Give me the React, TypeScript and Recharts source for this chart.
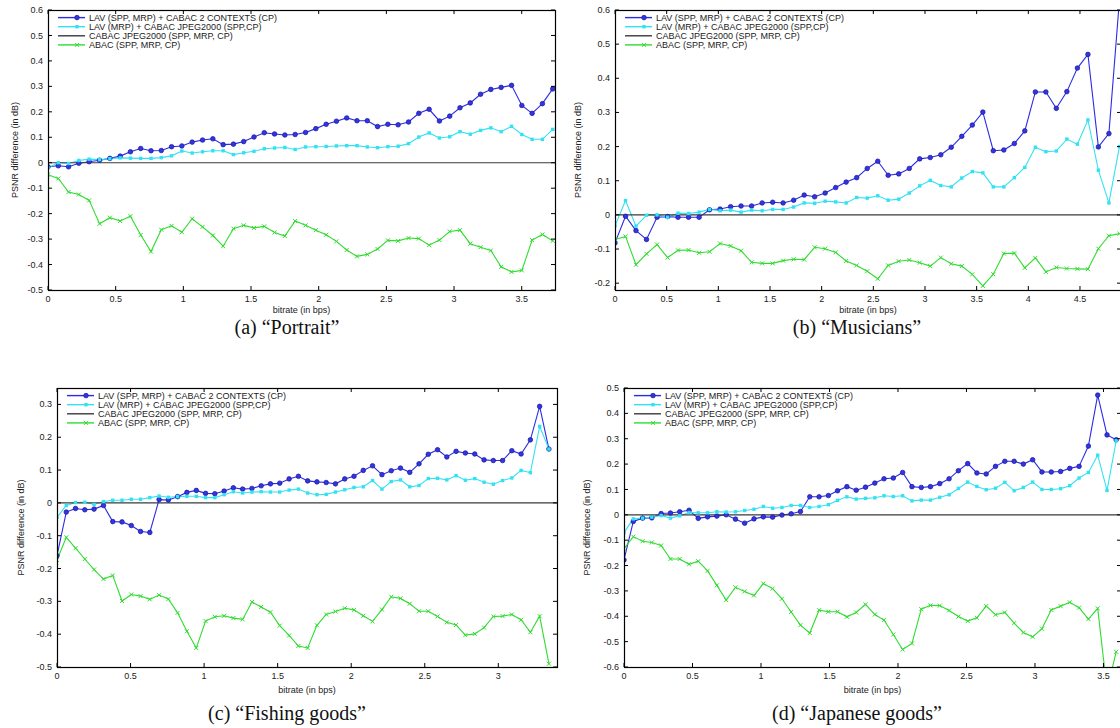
// PSNR difference vs bitrate — four test images, 2x2 grid (gnuplot look).

import React from 'react';
import { LineChart, Line, XAxis, YAxis, ReferenceLine } from 'recharts';

const SANS = '"Liberation Sans", Arial, Helvetica, sans-serif';
const SERIF = '"Liberation Serif", "Times New Roman", Times, serif';

const BLUE = '#2b2be6';
const CYAN = '#33e2f2';
const GREEN = '#30dc30';
const ZERO = '#3a3a3a';

const seriesNames = [
  'LAV (SPP, MRP) + CABAC 2 CONTEXTS (CP)',
  'LAV (MRP) + CABAC JPEG2000 (SPP,CP)',
  'CABAC JPEG2000 (SPP, MRP, CP)',
  'ABAC (SPP, MRP, CP)',
];

// ---------- (a) Portrait ----------
const portraitRate = [
  0, 0.076, 0.152, 0.228, 0.304, 0.381, 0.457, 0.533, 0.609, 0.685,
  0.761, 0.837, 0.913, 0.989, 1.065, 1.142, 1.218, 1.294, 1.37, 1.446,
  1.522, 1.598, 1.674, 1.75, 1.826, 1.903, 1.979, 2.055, 2.131, 2.207,
  2.283, 2.359, 2.435, 2.511, 2.587, 2.664, 2.74, 2.816, 2.892, 2.968,
  3.044, 3.12, 3.196, 3.272, 3.348, 3.425, 3.501, 3.577, 3.653, 3.729,
];
const portraitLavCtx = [
  -0.016, -0.012, -0.016, -0.002, 0.004, 0.01, 0.017, 0.026, 0.043, 0.056,
  0.047, 0.048, 0.063, 0.066, 0.081, 0.089, 0.094, 0.071, 0.073, 0.083,
  0.101, 0.118, 0.113, 0.109, 0.111, 0.119, 0.134, 0.151, 0.163, 0.176,
  0.165, 0.165, 0.142, 0.151, 0.149, 0.16, 0.194, 0.21, 0.164, 0.183,
  0.216, 0.235, 0.269, 0.288, 0.296, 0.304, 0.225, 0.194, 0.232, 0.29,
];
const portraitLavJpeg = [
  -0.02, 0.0, -0.003, 0.009, 0.014, 0.012, 0.016, 0.019, 0.018, 0.017,
  0.017, 0.02, 0.027, 0.046, 0.038, 0.043, 0.047, 0.047, 0.032, 0.039,
  0.045, 0.055, 0.058, 0.06, 0.052, 0.062, 0.063, 0.064, 0.066, 0.067,
  0.067, 0.062, 0.059, 0.063, 0.065, 0.075, 0.101, 0.117, 0.097, 0.102,
  0.122, 0.112, 0.127, 0.137, 0.122, 0.143, 0.111, 0.092, 0.092, 0.131,
];
const portraitAbac = [
  -0.047, -0.062, -0.115, -0.125, -0.148, -0.24, -0.216, -0.229, -0.21, -0.284,
  -0.349, -0.263, -0.248, -0.273, -0.22, -0.252, -0.286, -0.328, -0.259, -0.246,
  -0.256, -0.25, -0.274, -0.288, -0.229, -0.246, -0.265, -0.283, -0.309, -0.343,
  -0.368, -0.36, -0.339, -0.305, -0.307, -0.296, -0.298, -0.324, -0.304, -0.27,
  -0.265, -0.318, -0.332, -0.345, -0.409, -0.429, -0.423, -0.304, -0.282, -0.307,
];
const portraitXTicks = [0, 0.5, 1, 1.5, 2, 2.5, 3, 3.5];
const portraitYTicks = [-0.5, -0.4, -0.3, -0.2, -0.1, 0, 0.1, 0.2, 0.3, 0.4, 0.5, 0.6];

// ---------- (b) Musicians ----------
const musiciansRate = [
  0, 0.102, 0.203, 0.305, 0.407, 0.509, 0.61, 0.712, 0.814, 0.915,
  1.017, 1.119, 1.22, 1.322, 1.424, 1.526, 1.627, 1.729, 1.831, 1.932,
  2.034, 2.136, 2.237, 2.339, 2.441, 2.543, 2.644, 2.746, 2.848, 2.949,
  3.051, 3.153, 3.254, 3.356, 3.458, 3.56, 3.661, 3.763, 3.865, 3.966,
  4.068, 4.17, 4.271, 4.373, 4.475, 4.577, 4.678, 4.78, 4.882,
];
const musiciansLavCtx = [
  -0.082, -0.004, -0.046, -0.072, -0.007, -0.005, -0.007, -0.007, -0.007, 0.015,
  0.017, 0.024, 0.026, 0.026, 0.035, 0.037, 0.035, 0.043, 0.058, 0.053,
  0.064, 0.08, 0.096, 0.109, 0.136, 0.157, 0.116, 0.12, 0.136, 0.164,
  0.168, 0.176, 0.198, 0.23, 0.263, 0.301, 0.188, 0.19, 0.209, 0.246,
  0.36, 0.36, 0.312, 0.361, 0.43, 0.47, 0.199, 0.238, 0.63,
];
const musiciansLavJpeg = [
  -0.032, 0.042, -0.033, -0.001, 0.0, -0.007, 0.005, 0.004, 0.008, 0.016,
  0.012, 0.014, 0.008, 0.014, 0.012, 0.016, 0.016, 0.023, 0.035, 0.034,
  0.04, 0.038, 0.035, 0.051, 0.049, 0.056, 0.043, 0.046, 0.064, 0.085,
  0.101, 0.086, 0.082, 0.108, 0.127, 0.123, 0.082, 0.082, 0.109, 0.139,
  0.198, 0.185, 0.187, 0.222, 0.207, 0.278, 0.131, 0.035, 0.2,
];
const musiciansAbac = [
  -0.072, -0.063, -0.146, -0.114, -0.087, -0.125, -0.104, -0.103, -0.111, -0.108,
  -0.084, -0.091, -0.105, -0.139, -0.142, -0.142, -0.134, -0.13, -0.131, -0.095,
  -0.099, -0.11, -0.135, -0.148, -0.165, -0.187, -0.148, -0.136, -0.132, -0.14,
  -0.15, -0.125, -0.143, -0.15, -0.174, -0.208, -0.174, -0.113, -0.112, -0.155,
  -0.126, -0.167, -0.154, -0.157, -0.158, -0.159, -0.099, -0.061, -0.055,
];
const musiciansXTicks = [0, 0.5, 1, 1.5, 2, 2.5, 3, 3.5, 4, 4.5];
const musiciansYTicks = [-0.2, -0.1, 0, 0.1, 0.2, 0.3, 0.4, 0.5, 0.6];

// ---------- (c) Fishing goods ----------
const fishingRate = [
  0, 0.063, 0.126, 0.189, 0.252, 0.316, 0.379, 0.442, 0.505, 0.568,
  0.631, 0.694, 0.757, 0.82, 0.883, 0.947, 1.01, 1.073, 1.136, 1.199,
  1.262, 1.325, 1.388, 1.451, 1.514, 1.578, 1.641, 1.704, 1.767, 1.83,
  1.893, 1.956, 2.019, 2.082, 2.145, 2.209, 2.272, 2.335, 2.398, 2.461,
  2.524, 2.587, 2.65, 2.713, 2.776, 2.84, 2.903, 2.966, 3.029, 3.092,
  3.155, 3.218, 3.281, 3.344,
];
const fishingLavCtx = [
  -0.161, -0.028, -0.017, -0.021, -0.019, -0.008, -0.057, -0.058, -0.069, -0.087,
  -0.09, 0.01, 0.009, 0.019, 0.032, 0.038, 0.029, 0.028, 0.036, 0.046,
  0.042, 0.044, 0.052, 0.058, 0.06, 0.073, 0.081, 0.067, 0.064, 0.062,
  0.058, 0.073, 0.081, 0.099, 0.113, 0.086, 0.098, 0.106, 0.093, 0.119,
  0.148, 0.162, 0.14, 0.157, 0.152, 0.149, 0.131, 0.129, 0.129, 0.159,
  0.149, 0.192, 0.294, 0.164,
];
const fishingLavJpeg = [
  -0.044, -0.008, 0.001, 0.002, -0.005, 0.004, 0.008, 0.008, 0.011, 0.011,
  0.016, 0.021, 0.017, 0.019, 0.02, 0.02, 0.016, 0.016, 0.025, 0.034,
  0.03, 0.033, 0.034, 0.033, 0.033, 0.039, 0.042, 0.03, 0.025, 0.026,
  0.033, 0.04, 0.047, 0.049, 0.068, 0.042, 0.065, 0.07, 0.049, 0.053,
  0.074, 0.075, 0.07, 0.083, 0.069, 0.074, 0.063, 0.057, 0.068, 0.076,
  0.099, 0.092, 0.233, 0.164,
];
const fishingAbac = [
  -0.174, -0.105, -0.138, -0.171, -0.203, -0.232, -0.221, -0.299, -0.279, -0.284,
  -0.294, -0.281, -0.293, -0.335, -0.391, -0.442, -0.36, -0.347, -0.344, -0.351,
  -0.355, -0.302, -0.317, -0.333, -0.374, -0.404, -0.436, -0.442, -0.373, -0.34,
  -0.331, -0.321, -0.326, -0.344, -0.361, -0.325, -0.286, -0.291, -0.307, -0.33,
  -0.33, -0.346, -0.364, -0.372, -0.403, -0.399, -0.38, -0.346, -0.345, -0.34,
  -0.356, -0.394, -0.345, -0.49,
];
const fishingXTicks = [0, 0.5, 1, 1.5, 2, 2.5, 3];
const fishingYTicks = [-0.5, -0.4, -0.3, -0.2, -0.1, 0, 0.1, 0.2, 0.3];

// ---------- (d) Japanese goods ----------
const japaneseRate = [
  0, 0.068, 0.136, 0.203, 0.271, 0.339, 0.407, 0.475, 0.542, 0.61,
  0.678, 0.746, 0.814, 0.881, 0.949, 1.017, 1.085, 1.153, 1.22, 1.288,
  1.356, 1.424, 1.492, 1.559, 1.627, 1.695, 1.763, 1.831, 1.898, 1.966,
  2.034, 2.102, 2.17, 2.237, 2.305, 2.373, 2.441, 2.509, 2.576, 2.644,
  2.712, 2.78, 2.848, 2.915, 2.983, 3.051, 3.119, 3.187, 3.254, 3.322,
  3.39, 3.458, 3.526, 3.593,
];
const japaneseLavCtx = [
  -0.178, -0.026, -0.013, -0.012, 0.005, 0.007, 0.012, 0.018, -0.014, -0.008,
  -0.005, 0.0, -0.017, -0.033, -0.016, -0.008, -0.009, -0.001, 0.004, 0.013,
  0.071, 0.071, 0.076, 0.095, 0.111, 0.097, 0.109, 0.125, 0.142, 0.145,
  0.167, 0.111, 0.108, 0.111, 0.123, 0.142, 0.174, 0.202, 0.165, 0.161,
  0.191, 0.211, 0.211, 0.2, 0.217, 0.169, 0.169, 0.171, 0.183, 0.191,
  0.271, 0.472, 0.315, 0.296,
];
const japaneseLavJpeg = [
  -0.07, -0.016, -0.013, -0.009, -0.003, -0.013, -0.004, 0.009, 0.008, 0.008,
  0.012, 0.011, 0.012, 0.017, 0.022, 0.033, 0.026, 0.029, 0.037, 0.037,
  0.029, 0.033, 0.04, 0.057, 0.071, 0.062, 0.065, 0.067, 0.075, 0.072,
  0.075, 0.055, 0.058, 0.058, 0.069, 0.079, 0.104, 0.129, 0.112, 0.099,
  0.105, 0.128, 0.095, 0.108, 0.129, 0.1, 0.1, 0.103, 0.115, 0.145,
  0.167, 0.235, 0.096, 0.292,
];
const japaneseAbac = [
  -0.133, -0.086, -0.104, -0.109, -0.121, -0.174, -0.174, -0.195, -0.183, -0.221,
  -0.278, -0.336, -0.286, -0.302, -0.318, -0.271, -0.291, -0.331, -0.383, -0.435,
  -0.466, -0.376, -0.382, -0.382, -0.402, -0.385, -0.353, -0.393, -0.415, -0.472,
  -0.531, -0.507, -0.372, -0.357, -0.358, -0.377, -0.401, -0.419, -0.406, -0.36,
  -0.394, -0.385, -0.427, -0.464, -0.481, -0.449, -0.375, -0.36, -0.345, -0.366,
  -0.411, -0.369, -0.69, -0.54,
];
const japaneseXTicks = [0, 0.5, 1, 1.5, 2, 2.5, 3, 3.5];
const japaneseYTicks = [-0.6, -0.5, -0.4, -0.3, -0.2, -0.1, 0, 0.1, 0.2, 0.3, 0.4, 0.5];

// ---------- layout ----------
type Box = { l: number; t: number; r: number; b: number };
type Panel = {
  caption: string;
  rate: number[];
  lavCtx: number[];
  lavJpeg: number[];
  abac: number[];
  xTicks: number[];
  yTicks: number[];
  xMax: number;
  yMin: number;
  yMax: number;
  box: Box;
  tickBase: number; // x tick label baseline below frame
  titleY: number; // "bitrate" baseline
  yTitleX: number;
  capX: number;
  capY: number;
};

const panels: Panel[] = [
  {
    caption: '(a) \u201cPortrait\u201d',
    rate: portraitRate, lavCtx: portraitLavCtx, lavJpeg: portraitLavJpeg, abac: portraitAbac,
    xTicks: portraitXTicks, yTicks: portraitYTicks,
    xMax: 3.746, yMin: -0.5, yMax: 0.6,
    box: { l: 48, t: 10, r: 555, b: 290 },
    tickBase: 12.3, titleY: 313, yTitleX: 15, capX: 287, capY: 333.5,
  },
  {
    caption: '(b) \u201cMusicians\u201d',
    rate: musiciansRate, lavCtx: musiciansLavCtx, lavJpeg: musiciansLavJpeg, abac: musiciansAbac,
    xTicks: musiciansXTicks, yTicks: musiciansYTicks,
    xMax: 4.897, yMin: -0.22, yMax: 0.6,
    box: { l: 615, t: 10, r: 1121, b: 290 },
    tickBase: 12.3, titleY: 313, yTitleX: 578, capX: 857, capY: 333.5,
  },
  {
    caption: '(c) \u201cFishing goods\u201d',
    rate: fishingRate, lavCtx: fishingLavCtx, lavJpeg: fishingLavJpeg, abac: fishingAbac,
    xTicks: fishingXTicks, yTicks: fishingYTicks,
    xMax: 3.399, yMin: -0.5, yMax: 0.35,
    box: { l: 57, t: 388, r: 557, b: 667 },
    tickBase: 12.3, titleY: 693, yTitleX: 20.7, capX: 287, capY: 720,
  },
  {
    caption: '(d) \u201cJapanese goods\u201d',
    rate: japaneseRate, lavCtx: japaneseLavCtx, lavJpeg: japaneseLavJpeg, abac: japaneseAbac,
    xTicks: japaneseXTicks, yTicks: japaneseYTicks,
    xMax: 3.628, yMin: -0.6, yMax: 0.5,
    box: { l: 624, t: 388, r: 1121, b: 667 },
    tickBase: 12.3, titleY: 693, yTitleX: 586.7, capX: 857, capY: 720,
  },
];

const PAD_L = 60;
const PAD_T = 8;
const PAD_R = 8;
const PAD_B = 40;

const fmt = (v: number) => String(Math.round(v * 10) / 10);

// markers, shared by the lines and the legend
const BlueMark = ({ cx, cy }: { cx: number; cy: number }) => (
  <circle cx={cx} cy={cy} r={2.3} fill="#3434e4" stroke="#14149a" strokeWidth={0.7} />
);
const CyanMark = ({ cx, cy }: { cx: number; cy: number }) => (
  <rect x={cx - 1.7} y={cy - 1.7} width={3.4} height={3.4} fill={CYAN} />
);
const GreenMark = ({ cx, cy }: { cx: number; cy: number }) => (
  <path
    d={`M${cx - 2},${cy - 2}L${cx + 2},${cy + 2}M${cx - 2},${cy + 2}L${cx + 2},${cy - 2}`}
    stroke={GREEN}
    strokeWidth={1}
  />
);

const dotOf = (Mark: any) => (props: any) => {
  if (props.cx == null || props.cy == null) return <g key={props.index} />;
  return <Mark key={props.index} cx={props.cx} cy={props.cy} />;
};

function PanelChart({ p }: { p: Panel }) {
  const w = p.box.r - p.box.l;
  const h = p.box.b - p.box.t;
  const plotL = PAD_L;
  const plotR = PAD_L + w;
  const plotT = PAD_T;
  const plotB = PAD_T + h;

  const rows = p.rate.map((r, i) => ({
    rate: r,
    lavCtx: p.lavCtx[i],
    lavJpeg: p.lavJpeg[i],
    abac: p.abac[i],
  }));

  const xTick = (props: any) => {
    const x = props.x;
    return (
      <g>
        <line x1={x} x2={x} y1={plotB} y2={plotB - 4} stroke="#000" />
        <line x1={x} x2={x} y1={plotT} y2={plotT + 4} stroke="#000" />
        <text x={x} y={plotB + p.tickBase} textAnchor="middle" fontSize={9} fill="#222" fontFamily={SANS}>
          {fmt(props.payload.value)}
        </text>
      </g>
    );
  };

  const yTick = (props: any) => {
    const y = props.y;
    return (
      <g>
        <line x1={plotL} x2={plotL + 4} y1={y} y2={y} stroke="#000" />
        <line x1={plotR - 4} x2={plotR} y1={y} y2={y} stroke="#000" />
        <text x={plotL - 5} y={y} dy="0.34em" textAnchor="end" fontSize={9} fill="#222" fontFamily={SANS}>
          {fmt(props.payload.value)}
        </text>
      </g>
    );
  };

  return (
    <div style={{ position: 'absolute', left: p.box.l - PAD_L, top: p.box.t - PAD_T }}>
      <LineChart
        width={w + PAD_L + PAD_R}
        height={h + PAD_T + PAD_B}
        data={rows}
        margin={{ top: PAD_T, right: PAD_R, bottom: 0, left: 0 }}
      >
        <XAxis
          dataKey="rate"
          type="number"
          domain={[0, p.xMax]}
          ticks={p.xTicks}
          interval={0}
          allowDataOverflow
          axisLine={false}
          tickLine={false}
          tickSize={0}
          height={PAD_B}
          tick={xTick}
        />
        <YAxis
          type="number"
          domain={[p.yMin, p.yMax]}
          ticks={p.yTicks}
          interval={0}
          allowDataOverflow
          axisLine={false}
          tickLine={false}
          tickSize={0}
          width={PAD_L}
          tick={yTick}
        />
        <Line
          type="linear"
          dataKey="lavCtx"
          stroke={BLUE}
          strokeWidth={1.1}
          dot={dotOf(BlueMark)}
          activeDot={false}
          isAnimationActive={false}
        />
        <Line
          type="linear"
          dataKey="lavJpeg"
          stroke={CYAN}
          strokeWidth={1.1}
          dot={dotOf(CyanMark)}
          activeDot={false}
          isAnimationActive={false}
        />
        <ReferenceLine y={0} stroke={ZERO} strokeWidth={1.2} />
        <Line
          type="linear"
          dataKey="abac"
          stroke={GREEN}
          strokeWidth={1.1}
          dot={dotOf(GreenMark)}
          activeDot={false}
          isAnimationActive={false}
        />
      </LineChart>
    </div>
  );
}

function Overlay() {
  const marks = [BlueMark, CyanMark, null, GreenMark];
  const colors = [BLUE, CYAN, ZERO, GREEN];
  return (
    <svg
      width={1120}
      height={728}
      style={{ position: 'absolute', left: 0, top: 0, pointerEvents: 'none' }}
    >
      {panels.map((p, n) => {
        const w = p.box.r - p.box.l;
        const h = p.box.b - p.box.t;
        return (
          <g key={n}>
            <rect x={p.box.l + 0.5} y={p.box.t + 0.5} width={w} height={h} fill="none" stroke="#000" strokeWidth={1.2} />
            {seriesNames.map((name, k) => {
              const cy = p.box.t + 7.6 + k * 9.1;
              const Mark = marks[k];
              return (
                <g key={k}>
                  <line x1={p.box.l + 10} x2={p.box.l + 37} y1={cy} y2={cy} stroke={colors[k]} strokeWidth={1.4} />
                  {Mark ? <Mark cx={p.box.l + 29} cy={cy} /> : null}
                  <text x={p.box.l + 41} y={cy} dy="0.34em" fontSize={9} fill="#222" fontFamily={SANS}>
                    {name}
                  </text>
                </g>
              );
            })}
            <text
              transform={`translate(${p.yTitleX},${(p.box.t + p.box.b) / 2}) rotate(-90)`}
              dy="0.34em"
              textAnchor="middle"
              fontSize={9}
              fill="#222"
              fontFamily={SANS}
            >
              PSNR difference (in dB)
            </text>
            <text
              x={(p.box.l + Math.min(p.box.r, 1119)) / 2 + (p.box.r > 1119 ? 1 : 0)}
              y={p.titleY}
              textAnchor="middle"
              fontSize={9}
              fill="#222"
              fontFamily={SANS}
            >
              bitrate (in bps)
            </text>
            <text x={p.capX} y={p.capY} textAnchor="middle" fontSize={20} fill="#111" fontFamily={SERIF}>
              {p.caption}
            </text>
          </g>
        );
      })}
    </svg>
  );
}

export default function App() {
  return (
    <div
      style={{
        position: 'absolute',
        left: 0,
        top: 0,
        width: 1120,
        height: 728,
        overflow: 'hidden',
        background: '#fff',
      }}
    >
      {panels.map((p, n) => (
        <PanelChart key={n} p={p} />
      ))}
      <Overlay />
    </div>
  );
}
